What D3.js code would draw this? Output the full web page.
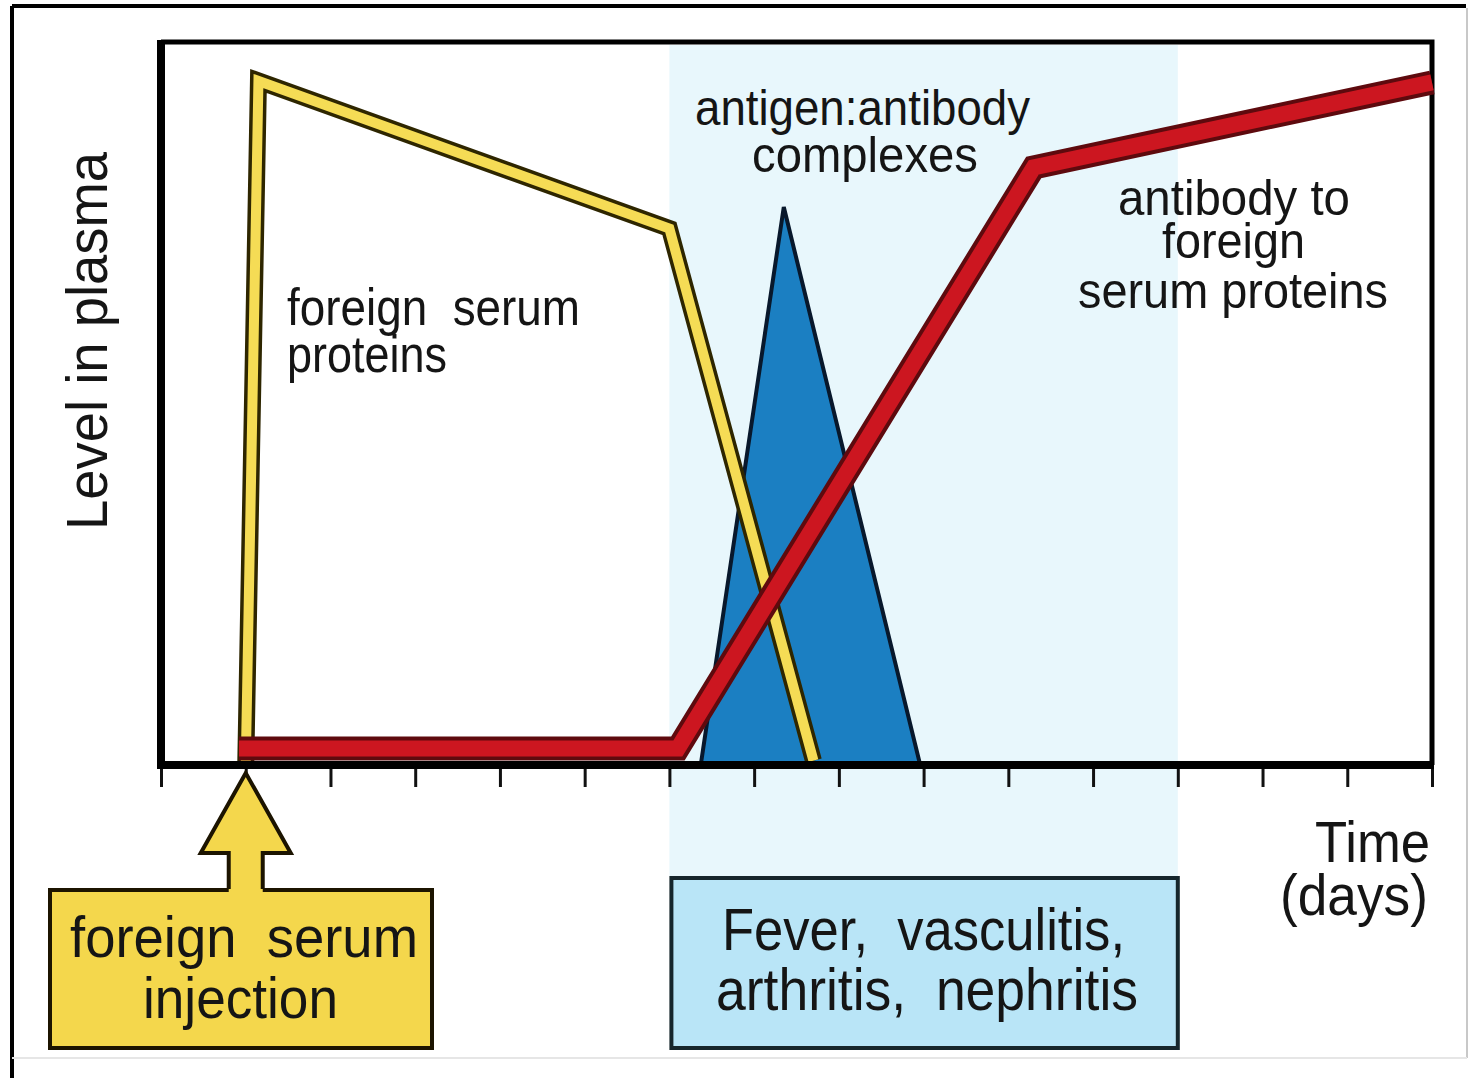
<!DOCTYPE html>
<html>
<head>
<meta charset="utf-8">
<script src="https://cdn.jsdelivr.net/npm/d3@7"></script>
<style>
  body { margin: 0; background: #fff; }
  svg { display: block; }
  text { font-family: "Liberation Sans", Arial, sans-serif; fill: #151515; }
</style>
</head>
<body>
<div id="chart"></div>
<script>
// time in days, level in plasma (0-100)
const dayTicks = d3.range(0, 16);
const foreignSerum = [[1.0, 0], [1.15, 95], [6.0, 74.5], [7.7, 0.6]];
const antibody = [[0.92, 2.3], [6.1, 2.3], [10.3, 83], [15, 94.8]];
const complexes = [[6.37, 0], [7.35, 77.5], [8.96, 0]];
const symptomDays = [6, 12];
const injectionDay = 1;

const W = 1472, H = 1078;
const svg = d3.select("#chart").append("svg")
    .attr("width", W)
    .attr("height", H);

const x = d3.scaleLinear().domain([0, 15]).range([161, 1432]);
const y = d3.scaleLinear().domain([0, 100]).range([765, 45]);

// outer frame
svg.append("line").attr("x1", 12).attr("y1", 6).attr("x2", 1466).attr("y2", 6)
    .attr("stroke", "#000").attr("stroke-width", 4);
svg.append("line").attr("x1", 12).attr("y1", 6).attr("x2", 12).attr("y2", H)
    .attr("stroke", "#000").attr("stroke-width", 4);
svg.append("line").attr("x1", 1467).attr("y1", 8).attr("x2", 1467).attr("y2", 1058)
    .attr("stroke", "#c8c8c8").attr("stroke-width", 2);
svg.append("line").attr("x1", 12).attr("y1", 1058).attr("x2", 1467).attr("y2", 1058)
    .attr("stroke", "#e6e6e6").attr("stroke-width", 2);

// light blue band for symptom period
svg.append("rect")
    .attr("x", x(symptomDays[0])).attr("y", y(100))
    .attr("width", x(symptomDays[1]) - x(symptomDays[0]))
    .attr("height", 876 - y(100))
    .attr("fill", "#e8f7fc");

// plot frame top + right
svg.append("path")
    .attr("d", `M${x(0)},${y(100) - 3}H${x(15)}V${y(0)}`)
    .attr("fill", "none").attr("stroke", "#000").attr("stroke-width", 5);

// antigen:antibody complexes triangle
svg.append("path")
    .attr("d", d3.line().x(d => x(d[0])).y(d => y(d[1]))(complexes) + "Z")
    .attr("fill", "#1b7fc2")
    .attr("stroke", "#08182c")
    .attr("stroke-width", 4)
    .attr("stroke-linejoin", "miter");

const line = d3.line().x(d => x(d[0])).y(d => y(d[1]));

// foreign serum proteins
svg.append("path").attr("d", line(foreignSerum))
    .attr("fill", "none").attr("stroke", "#2e2600").attr("stroke-width", 17)
    .attr("stroke-linejoin", "miter");
svg.append("path").attr("d", line(foreignSerum))
    .attr("fill", "none").attr("stroke", "#f5dc55").attr("stroke-width", 10)
    .attr("stroke-linejoin", "miter");

// antibody
svg.append("path").attr("d", line(antibody))
    .attr("fill", "none").attr("stroke", "#5e0a0e").attr("stroke-width", 24)
    .attr("stroke-linejoin", "miter");
svg.append("path").attr("d", line(antibody))
    .attr("fill", "none").attr("stroke", "#cc1620").attr("stroke-width", 16)
    .attr("stroke-linejoin", "miter");

// axes
const xAxis = svg.append("g")
    .attr("transform", `translate(0,${y(0)})`)
    .call(d3.axisBottom(x).tickValues(dayTicks).tickSize(22).tickFormat(""));
xAxis.select(".domain").remove();
xAxis.selectAll(".tick line").attr("stroke", "#111").attr("stroke-width", 3);

svg.append("line").attr("x1", x(0) - 4).attr("x2", x(15) + 2)
    .attr("y1", y(0)).attr("y2", y(0))
    .attr("stroke", "#000").attr("stroke-width", 8);
svg.append("line").attr("x1", x(0)).attr("x2", x(0))
    .attr("y1", y(100) - 5).attr("y2", y(0) + 4)
    .attr("stroke", "#000").attr("stroke-width", 8);

// symptom box
svg.append("rect")
    .attr("x", x(symptomDays[0]) + 2).attr("y", 878)
    .attr("width", x(symptomDays[1]) - x(symptomDays[0]) - 2)
    .attr("height", 170)
    .attr("fill", "#b9e5f7").attr("stroke", "#16262c").attr("stroke-width", 4);

// injection box + arrow
svg.append("rect")
    .attr("x", 50).attr("y", 890).attr("width", 382).attr("height", 158)
    .attr("fill", "#f4d74c").attr("stroke", "#1c1400").attr("stroke-width", 4);

const ax = x(injectionDay);
const arrowPts = [[ax - 17, 896], [ax - 17, 853], [ax - 45, 853], [ax, 773],
                  [ax + 45, 853], [ax + 17, 853], [ax + 17, 896]];
svg.append("path")
    .attr("d", d3.line()(arrowPts) + "Z")
    .attr("fill", "#f4d74c");
svg.append("path")
    .attr("d", d3.line()(arrowPts.map(p => p[1] === 896 ? [p[0], 889] : p)))
    .attr("fill", "none").attr("stroke", "#1c1400").attr("stroke-width", 4)
    .attr("stroke-linejoin", "miter");

// labels
const labels = [
  {t: "foreign  serum", x: 287, y: 325, s: 52, w: 293},
  {t: "proteins", x: 287, y: 372, s: 52, w: 160},
  {t: "antigen:antibody", x: 695, y: 125, s: 50, w: 335},
  {t: "complexes", x: 752, y: 172, s: 50, w: 226},
  {t: "antibody to", x: 1118, y: 215, s: 50, w: 232},
  {t: "foreign", x: 1162, y: 258, s: 50, w: 143},
  {t: "serum proteins", x: 1078, y: 308, s: 50, w: 310},
  {t: "Time", x: 1315, y: 862, s: 58, w: 115},
  {t: "(days)", x: 1280, y: 915, s: 58, w: 148},
  {t: "Fever,  vasculitis,", x: 722, y: 950, s: 60, w: 403},
  {t: "arthritis,  nephritis", x: 716, y: 1010, s: 60, w: 422},
  {t: "foreign  serum", x: 70, y: 957, s: 58, w: 348},
  {t: "injection", x: 143, y: 1018, s: 58, w: 195}
];
svg.selectAll("text.lbl").data(labels).enter().append("text")
    .attr("class", "lbl")
    .attr("x", d => d.x).attr("y", d => d.y)
    .attr("font-size", d => d.s)
    .attr("textLength", d => d.w)
    .attr("lengthAdjust", "spacingAndGlyphs")
    .style("white-space", "pre")
    .text(d => d.t);

svg.append("text")
    .attr("transform", "translate(107,530) rotate(-90)")
    .attr("font-size", 58)
    .attr("textLength", 378)
    .attr("lengthAdjust", "spacingAndGlyphs")
    .text("Level in plasma");
</script>
</body>
</html>
